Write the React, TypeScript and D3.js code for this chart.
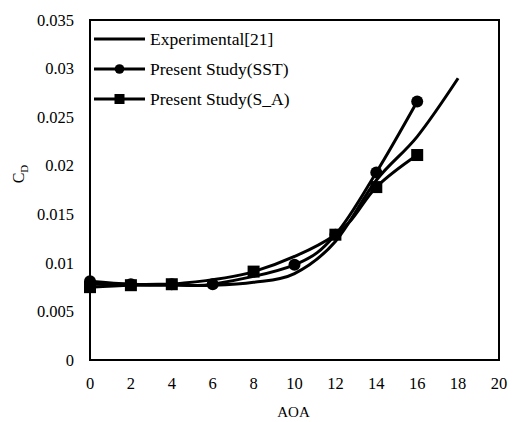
import React from "react";
import * as d3 from "d3";

const expAOA = [0, 2, 4, 6, 8, 10, 12, 14, 16, 18];
const expCD = [0.0078, 0.0078, 0.0077, 0.0077, 0.008, 0.0089, 0.0122, 0.0185, 0.023, 0.029];
const sstAOA = [0, 2, 4, 6, 10, 12, 14, 16];
const sstCD = [0.0081, 0.0078, 0.0078, 0.0078, 0.0098, 0.0129, 0.0193, 0.0266];
const saAOA = [0, 2, 4, 8, 12, 14, 16];
const saCD = [0.0075, 0.0077, 0.0078, 0.0091, 0.0129, 0.0178, 0.0211];
const xTicks = [0, 2, 4, 6, 8, 10, 12, 14, 16, 18, 20];
const yTicks = [0, 0.005, 0.01, 0.015, 0.02, 0.025, 0.03, 0.035];
const yTickLabels = ["0", "0.005", "0.01", "0.015", "0.02", "0.025", "0.03", "0.035"];
const legendLabels = ["Experimental[21]", "Present Study(SST)", "Present Study(S_A)"];

const W = 513, H = 422;
const L = 90, R = 499, T = 20, B = 360;
const ts = { fontFamily: '"Liberation Serif"' };

export default function App() {
  const x = d3.scaleLinear().domain([0, 20]).range([L, R]);
  const y = d3.scaleLinear().domain([0, 0.035]).range([B, T]);
  const line = d3
    .line<[number, number]>()
    .x((d) => x(d[0]))
    .y((d) => y(d[1]))
    .curve(d3.curveCardinal.tension(0));
  const expPts = expAOA.map((a, i) => [a, expCD[i]] as [number, number]);
  const sstPts = sstAOA.map((a, i) => [a, sstCD[i]] as [number, number]);
  const saPts = saAOA.map((a, i) => [a, saCD[i]] as [number, number]);
  const sw = 3;
  const sq = 12;
  const cr = 6;
  const legY = [39, 69, 99];
  return (
    <svg width={W} height={H} style={{ position: "absolute", left: 0, top: 0, background: "#fff" }}>
      <rect x={0} y={0} width={W} height={H} fill="#fff" />
      <path d={line(expPts) || ""} fill="none" stroke="#000" strokeWidth={sw} />
      <path d={line(sstPts) || ""} fill="none" stroke="#000" strokeWidth={sw} />
      <path d={line(saPts) || ""} fill="none" stroke="#000" strokeWidth={sw} />
      {sstPts.map((p, i) => (
        <circle key={"c" + i} cx={x(p[0])} cy={y(p[1])} r={cr} fill="#000" />
      ))}
      {saPts.map((p, i) => (
        <rect key={"s" + i} x={x(p[0]) - sq / 2} y={y(p[1]) - sq / 2} width={sq} height={sq} fill="#000" />
      ))}
      <rect x={L} y={T} width={R - L} height={B - T} fill="none" stroke="#000" strokeWidth={2} />
      {yTicks.map((t, i) => (
        <text key={"y" + i} x={74} y={y(t)} dy="0.35em" textAnchor="end" fontSize={16.5} fill="#000" style={ts}>
          {yTickLabels[i]}
        </text>
      ))}
      {xTicks.map((t, i) => (
        <text key={"x" + i} x={x(t)} y={383} dy="0.35em" textAnchor="middle" fontSize={16.5} fill="#000" style={ts}>
          {t}
        </text>
      ))}
      <text x={(L + R) / 2 - 1} y={412} dy="0.35em" textAnchor="middle" fontSize={15} fill="#000" style={ts}>
        AOA
      </text>
      <text transform={`translate(24,174) rotate(-90)`} textAnchor="middle" fontSize={16} fill="#000" style={ts}>
        C<tspan fontSize={11} dy={4}>D</tspan>
      </text>
      {legendLabels.map((lab, i) => (
        <g key={"l" + i}>
          <line x1={94} x2={145} y1={legY[i]} y2={legY[i]} stroke="#000" strokeWidth={sw} />
          {i === 1 && <circle cx={119.5} cy={legY[i]} r={4.8} fill="#000" />}
          {i === 2 && <rect x={114.5} y={legY[i] - 5} width={10} height={10} fill="#000" />}
          <text x={150} y={legY[i]} dy="0.35em" fontSize={17.5} fill="#000" style={ts}>
            {lab}
          </text>
        </g>
      ))}
    </svg>
  );
}
